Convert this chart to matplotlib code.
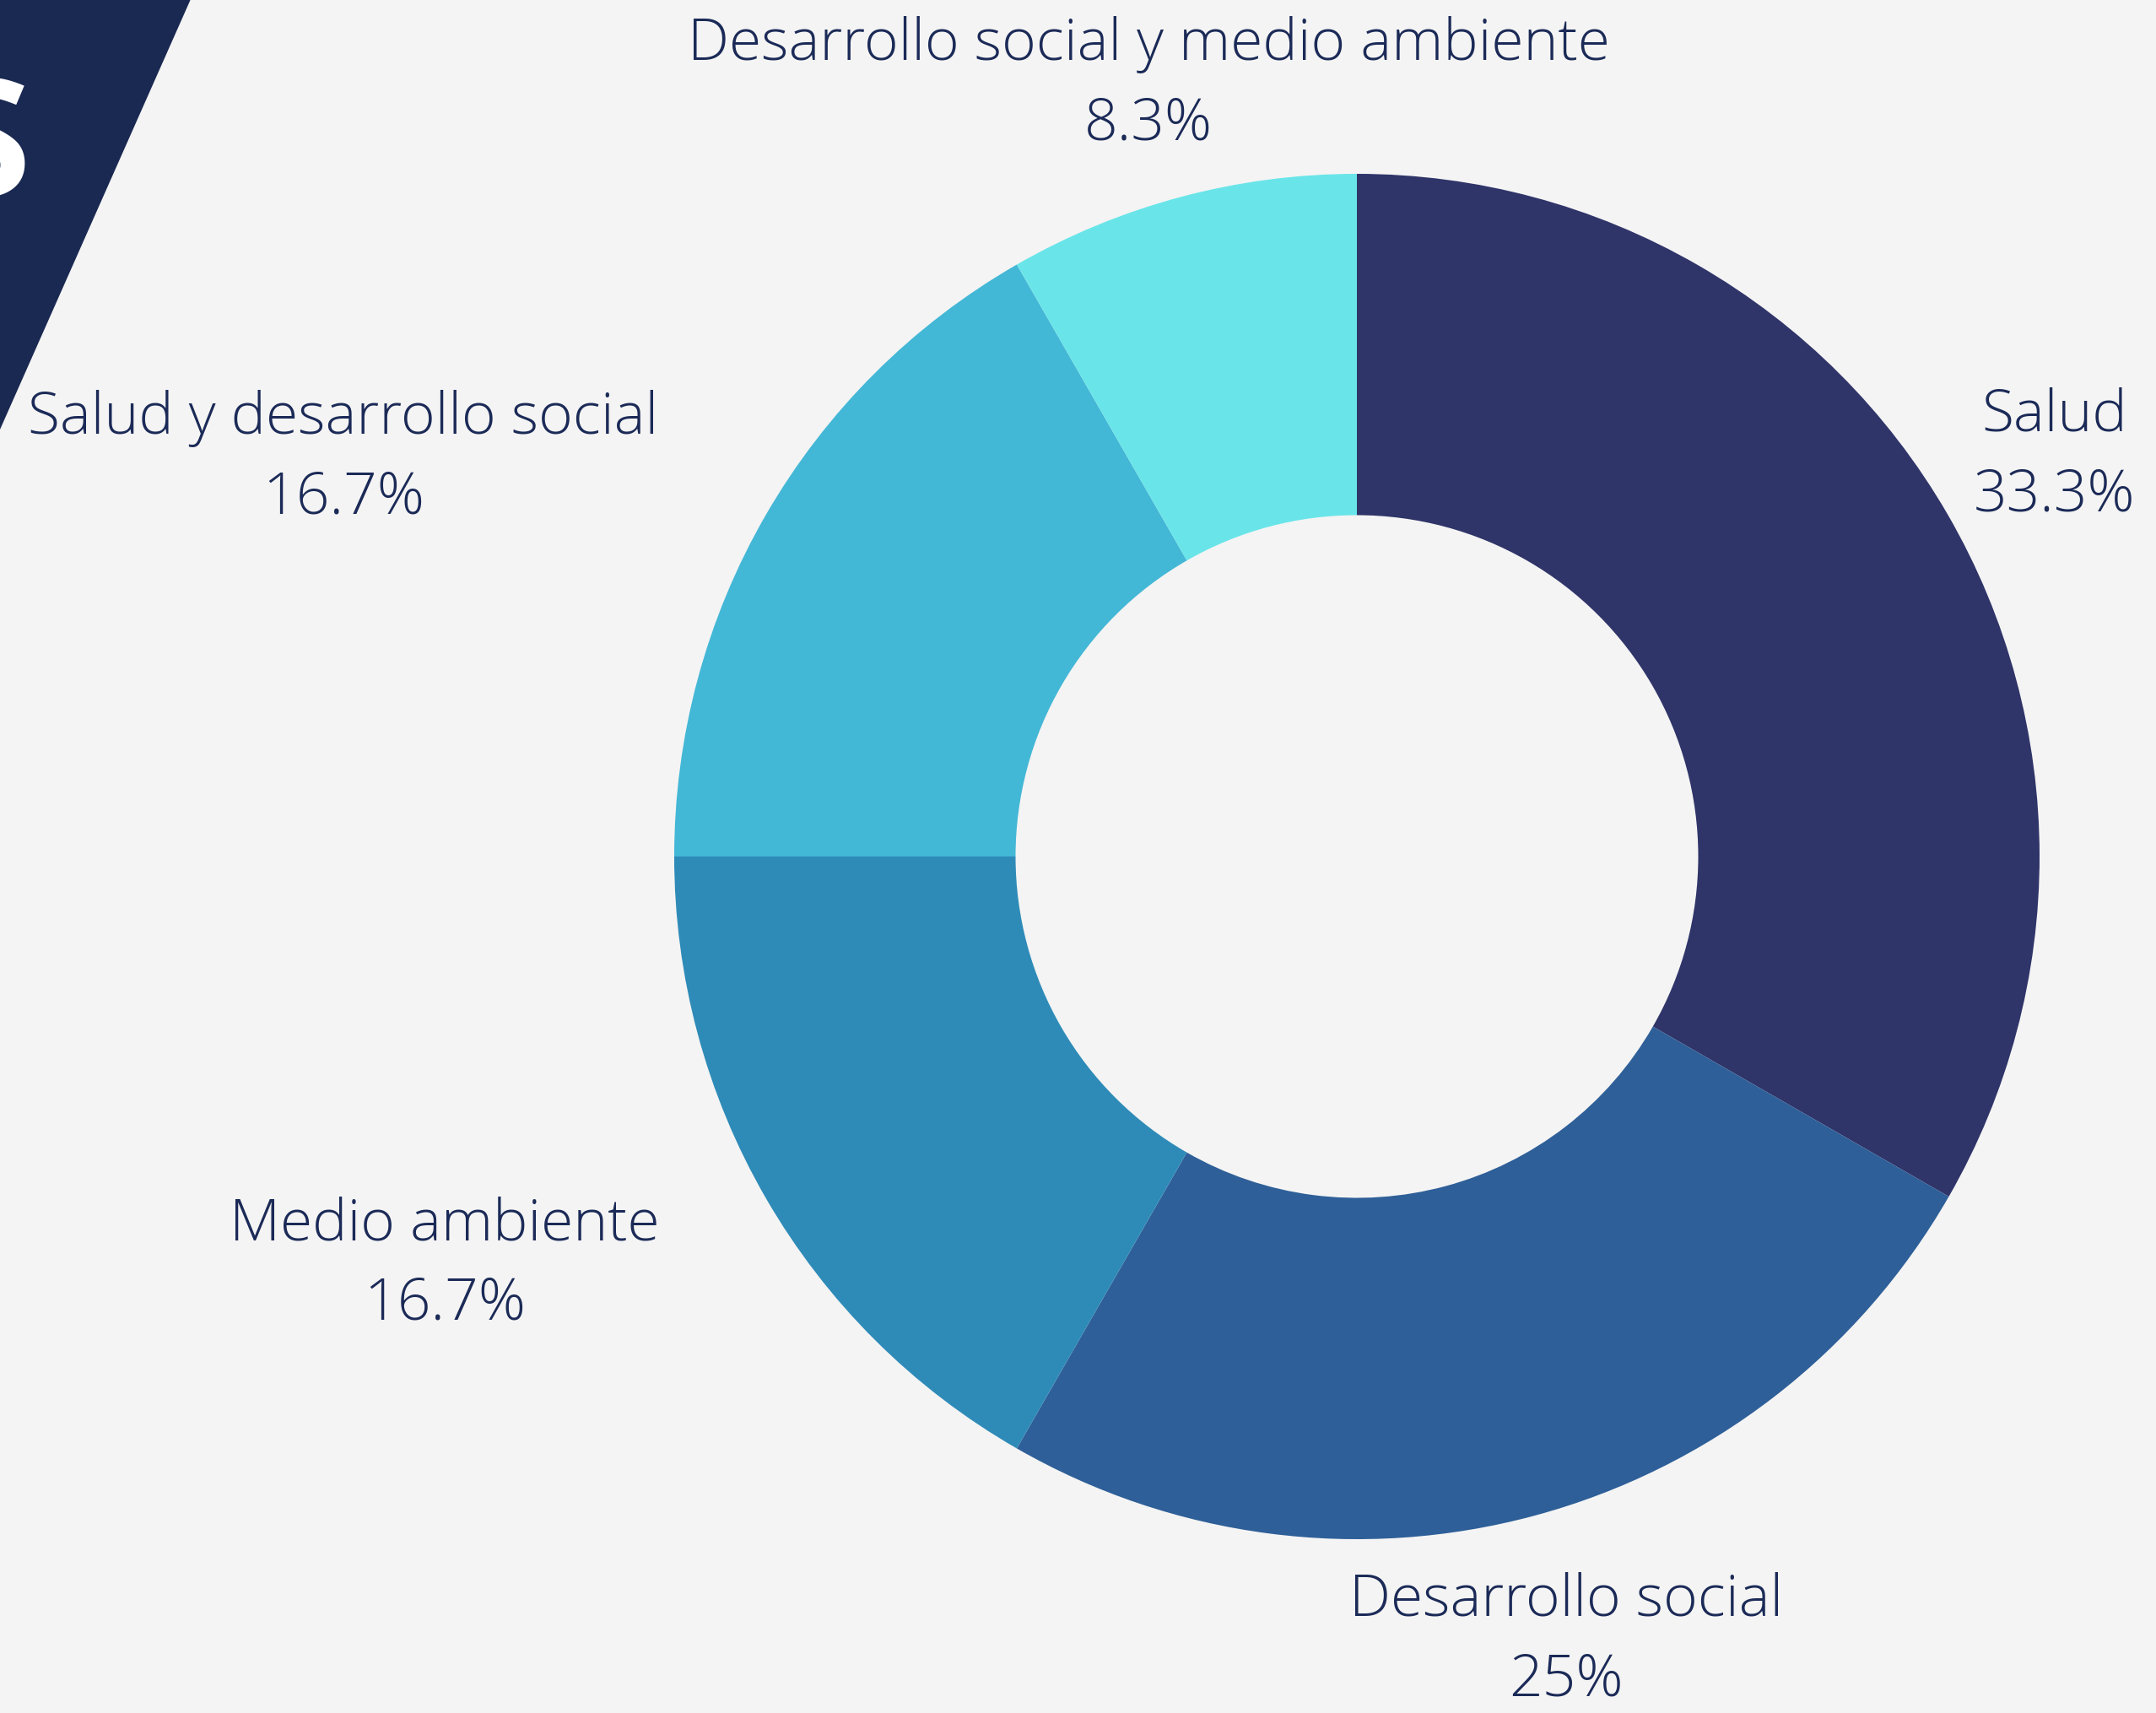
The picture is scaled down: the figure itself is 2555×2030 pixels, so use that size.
import matplotlib.pyplot as plt
from matplotlib.patches import Polygon

# datos del gráfico de dona
areas = ['Salud', 'Desarrollo social', 'Medio ambiente',
         'Salud y desarrollo social', 'Desarrollo social y medio ambiente']
porcentajes = [33.3, 25, 16.7, 16.7, 8.3]
etiquetas = ['33.3%', '25%', '16.7%', '16.7%', '8.3%']
colores = ['#2f3469', '#2e5f98', '#2e8bb8', '#43b7d6', '#69e5e9']

W, H = 2555, 2031
fondo = '#f4f4f4'
texto = '#1b2a57'

fig = plt.figure(figsize=(W / 100, H / 100), dpi=100, facecolor=fondo)

# franja oscura decorativa arriba a la izquierda
fig.patches.append(Polygon([(0, 1), (226 / W, 1), (0, 1 - 510 / H)],
                           closed=True, transform=fig.transFigure,
                           facecolor='#1a2952', edgecolor='none'))
fig.text(36 / W, 1 - 182 / H, 'S', color='white', fontsize=140,
         fontweight='bold', family=['Open Sans', 'DejaVu Sans'],
         ha='right', va='center')

# dona: centro (1608, 1016) px, radio 809 px
cx, cy, r = 1608, 1016, 809
ax = fig.add_axes([(cx - r) / W, 1 - (cy + r) / H, 2 * r / W, 2 * r / H])
ax.set_facecolor('none')
ax.pie(porcentajes, colors=colores, startangle=90, counterclock=False,
       radius=1, wedgeprops=dict(width=0.5, edgecolor='none'))
ax.set_xlim(-1, 1)
ax.set_ylim(-1, 1)
ax.axis('off')

# posiciones de las etiquetas (px): centro x, y de la primera línea
pos = [(2435, 493), (1856, 1897), (527, 1451), (407, 496), (1361, 53)]
for nombre, pct, (x, y) in zip(areas, etiquetas, pos):
    for k, t in enumerate([nombre, pct]):
        fig.text(x / W, 1 - (y + k * 95) / H, t, color=texto, fontsize=50,
                 fontweight='light', family=['Open Sans', 'DejaVu Sans'],
                 ha='center', va='center')

fig.savefig('out.png', dpi=100, facecolor=fondo)
